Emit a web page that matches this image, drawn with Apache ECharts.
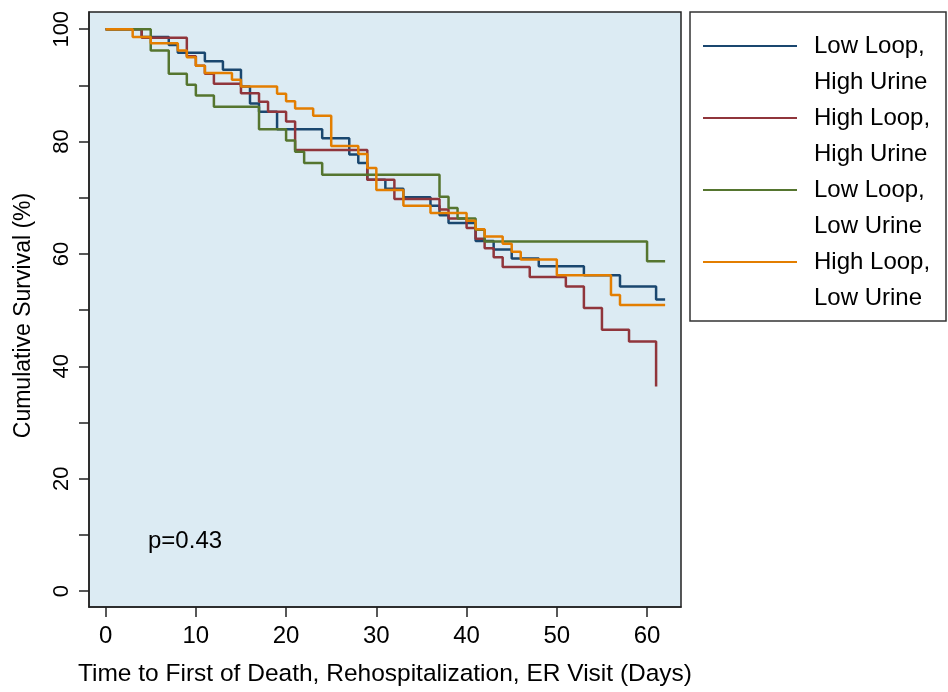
<!DOCTYPE html>
<html>
<head>
<meta charset="utf-8">
<script src="https://cdn.jsdelivr.net/npm/echarts@6/dist/echarts.min.js"></script>
<style>
  html, body { margin: 0; padding: 0; background: #fff; }
  #chart { width: 948px; height: 692px; }
</style>
</head>
<body>
<div id="chart"></div>
<script>
// Kaplan-Meier steps (day, cumulative survival %)
const groupNames = ['Low Loop,\nHigh Urine', 'High Loop,\nHigh Urine', 'Low Loop,\nLow Urine', 'High Loop,\nLow Urine']
const groupColors = ['#1a476f', '#90353b', '#55752f', '#e37e00']

const lowLoopHighUrineDays = [0, 4, 7, 8, 11, 13, 15, 16, 17, 19, 24, 27, 28, 29, 31, 33, 36, 37, 38, 41, 43, 45, 48, 53, 57, 61, 62]
const lowLoopHighUrineSurv = [100, 98.6, 97.2, 95.8, 94.3, 92.8, 89.8, 86.8, 85.3, 82.2, 80.6, 77.7, 76.2, 73.2, 71.6, 70.1, 68.6, 66.9, 65.5, 62.3, 60.8, 59.2, 57.8, 56.2, 54.2, 51.9, 51.9]

const highLoopHighUrineDays = [0, 4, 9, 10, 11, 12, 15, 17, 18, 20, 21, 29, 32, 37, 38, 40, 41, 42, 43, 44, 47, 51, 53, 55, 58, 61]
const highLoopHighUrineSurv = [100, 98.5, 95.2, 93.5, 92.1, 90.3, 88.6, 87.1, 85.3, 83.6, 78.5, 73.2, 69.8, 67.9, 66.3, 64.6, 62.7, 61.0, 59.4, 57.7, 55.9, 54.2, 50.4, 46.5, 44.4, 36.4]

const lowLoopLowUrineDays = [0, 5, 7, 9, 10, 12, 17, 20, 21, 22, 24, 37, 38, 39, 41, 42, 60, 62]
const lowLoopLowUrineSurv = [100, 96.2, 92.1, 90.1, 88.2, 86.2, 82.2, 80.2, 78.2, 76.2, 74.1, 70.2, 68.2, 66.3, 64.3, 62.2, 58.7, 58.7]

const highLoopLowUrineDays = [0, 3, 5, 8, 9, 10, 11, 14, 15, 19, 20, 21, 23, 25, 28, 29, 30, 33, 36, 40, 41, 42, 44, 45, 46, 50, 56, 57, 62]
const highLoopLowUrineSurv = [100, 98.6, 97.5, 96.2, 95.0, 93.5, 92.2, 91.0, 89.8, 88.5, 87.2, 85.9, 84.6, 79.2, 77.8, 75.3, 71.4, 68.6, 67.3, 65.9, 64.4, 63.1, 61.8, 60.4, 59.0, 56.2, 52.7, 50.9, 50.9]

const xTicks = [0, 10, 20, 30, 40, 50, 60]
const yTicks = [0, 10, 20, 30, 40, 50, 60, 70, 80, 90, 100]
const yLabels = [0, 20, 40, 60, 80, 100]

const font = '"Liberation Sans", Arial, Helvetica, sans-serif'

function zip(days, surv) {
  return days.map(function(d, i) { return [d, surv[i]] })
}

const groups = [
  zip(lowLoopHighUrineDays, lowLoopHighUrineSurv),
  zip(highLoopHighUrineDays, highLoopHighUrineSurv),
  zip(lowLoopLowUrineDays, lowLoopLowUrineSurv),
  zip(highLoopLowUrineDays, highLoopLowUrineSurv)
]

const chart = echarts.init(document.getElementById('chart'))

const option = {
  animation: false,
  textStyle: { fontFamily: font },
  grid: {
    left: 89,
    right: 267,
    top: 12,
    bottom: 82,
    show: true,
    backgroundColor: '#dcebf3',
    borderColor: '#222',
    borderWidth: 1.5
  },
  legend: {
    orient: 'vertical',
    left: 703,
    top: -8,
    padding: 0,
    itemGap: -36,
    itemWidth: 94,
    itemHeight: 2,
    icon: 'rect',
    selectedMode: false,
    data: groupNames,
    // leading blank line so the key line sits beside the first text line
    formatter: function(name) { return '\n' + name },
    textStyle: {
      color: '#000',
      fontSize: 24,
      fontFamily: font,
      lineHeight: 36,
      padding: [0, 0, 0, 12]
    }
  },
  graphic: [
    {
      type: 'rect',
      shape: { x: 690, y: 12, width: 256, height: 309 },
      style: { fill: 'none', stroke: '#333', lineWidth: 1.5 },
      z: 10
    },
    {
      type: 'text',
      x: 148,
      y: 541,
      style: { text: 'p=0.43', font: '24px ' + font, fill: '#000', verticalAlign: 'middle' },
      z: 10
    }
  ],
  xAxis: {
    type: 'value',
    min: -1.84,
    max: 63.76,
    name: 'Time to First of Death, Rehospitalization, ER Visit (Days)',
    nameLocation: 'middle',
    nameGap: 55,
    nameTextStyle: { color: '#000', fontSize: 24.5, fontFamily: font },
    axisLine: { show: true, onZero: false, lineStyle: { color: '#222', width: 1.5 } },
    axisTick: { show: true, length: 10, customValues: xTicks, lineStyle: { color: '#222', width: 1.5 } },
    axisLabel: { customValues: xTicks, color: '#000', fontSize: 24, margin: 17, fontFamily: font },
    splitLine: { show: false }
  },
  yAxis: {
    type: 'value',
    min: -2.84,
    max: 103.07,
    name: 'Cumulative Survival (%)',
    nameLocation: 'middle',
    nameRotate: 90,
    nameGap: 54,
    nameTextStyle: { color: '#000', fontSize: 23, fontFamily: font, padding: [0, 12, 0, 0] },
    axisLine: { show: true, onZero: false, lineStyle: { color: '#222', width: 1.5 } },
    axisTick: { show: true, length: 10, customValues: yTicks, lineStyle: { color: '#222', width: 1.5 } },
    axisLabel: { customValues: yLabels, rotate: 90, color: '#000', fontSize: 22, margin: 16, fontFamily: font },
    splitLine: { show: false }
  },
  series: groups.map(function(data, i) {
    return {
      name: groupNames[i],
      type: 'line',
      step: 'end',
      showSymbol: false,
      symbol: 'none',
      color: groupColors[i],
      lineStyle: { color: groupColors[i], width: 2.5 },
      data: data
    }
  })
}

chart.setOption(option)
</script>
</body>
</html>
